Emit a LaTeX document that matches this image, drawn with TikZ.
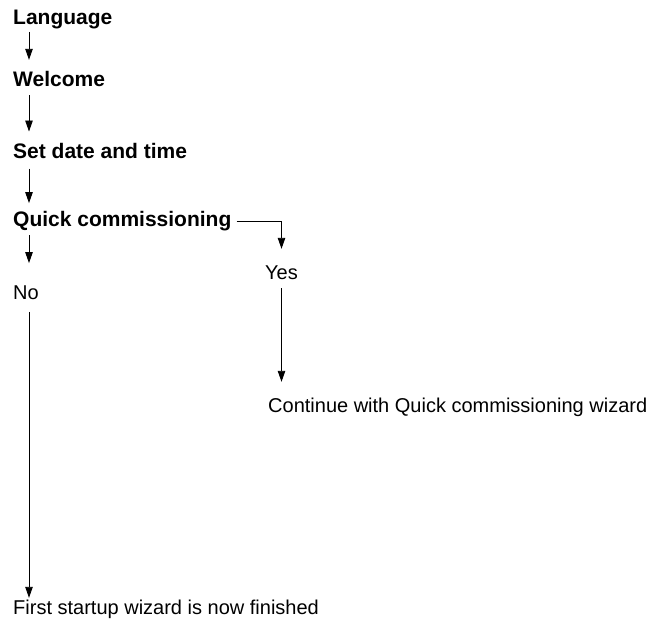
\documentclass[tikz,border=0pt]{standalone}
\usepackage{fontspec}
\setmainfont{Liberation Sans}
\usetikzlibrary{positioning, arrows.meta}

\begin{document}
\begin{tikzpicture}[
    x=1pt, y=-1pt,
    stepbox/.style={inner sep=0pt, text height=14pt, text depth=4pt,
                    anchor=base west, font=\fontsize{21}{24}\selectfont\bfseries},
    answer/.style={inner sep=0pt, text height=14pt, text depth=4pt,
                    anchor=base west, font=\fontsize{20}{24}\selectfont},
    arr/.style={-{Triangle[length=11pt, width=7.5pt]}, line width=0.9pt}
]
\useasboundingbox (0,0) rectangle (653,619);

\node[stepbox] (lang) at (13,24) {Language};
\node[stepbox, below=62.7pt of lang.base west, anchor=base west] (welc) {Welcome};
\node[stepbox, below=71.6pt of welc.base west, anchor=base west] (datetime) {Set date and time};
\node[stepbox, below=68.4pt of datetime.base west, anchor=base west] (quick) {Quick commissioning};

\node[answer, below=72.6pt of quick.base west, anchor=base west] (no) {No};
\node[answer, below right=52.6pt and 252pt of quick.base west, anchor=base west] (yes) {Yes};
\node[answer, below right=133.4pt and 3pt of yes.base west, anchor=base west] (cont) {Continue with Quick commissioning wizard};
\node[answer, below=315.4pt of no.base west, anchor=base west] (done) {First startup wizard is now finished};

\draw[arr, shorten <=3.7pt, shorten >=12.7pt] ([xshift=16pt]lang.south west) -- ([xshift=16pt]welc.north west);
\draw[arr, shorten <=4.3pt, shorten >=12.6pt] ([xshift=16pt]welc.south west) -- ([xshift=16pt]datetime.north west);
\draw[arr, shorten <=6pt, shorten >=9.4pt] ([xshift=16pt]datetime.south west) -- ([xshift=16pt]quick.north west);
\draw[arr, shorten <=4.3pt, shorten >=22pt] ([xshift=16pt]quick.south west) -- ([xshift=16pt]no.north west);
\draw[arr, shorten <=8.4pt, shorten >=2.7pt] ([xshift=16pt]no.south west) -- ([xshift=16pt]done.north west);
\draw[arr, shorten >=16.3pt] ([xshift=5pt]quick.east) -| (yes.north);
\draw[arr, shorten <=4.7pt, shorten >=16.7pt] (yes.south) -- (yes.south |- cont.north);
\end{tikzpicture}
\end{document}
